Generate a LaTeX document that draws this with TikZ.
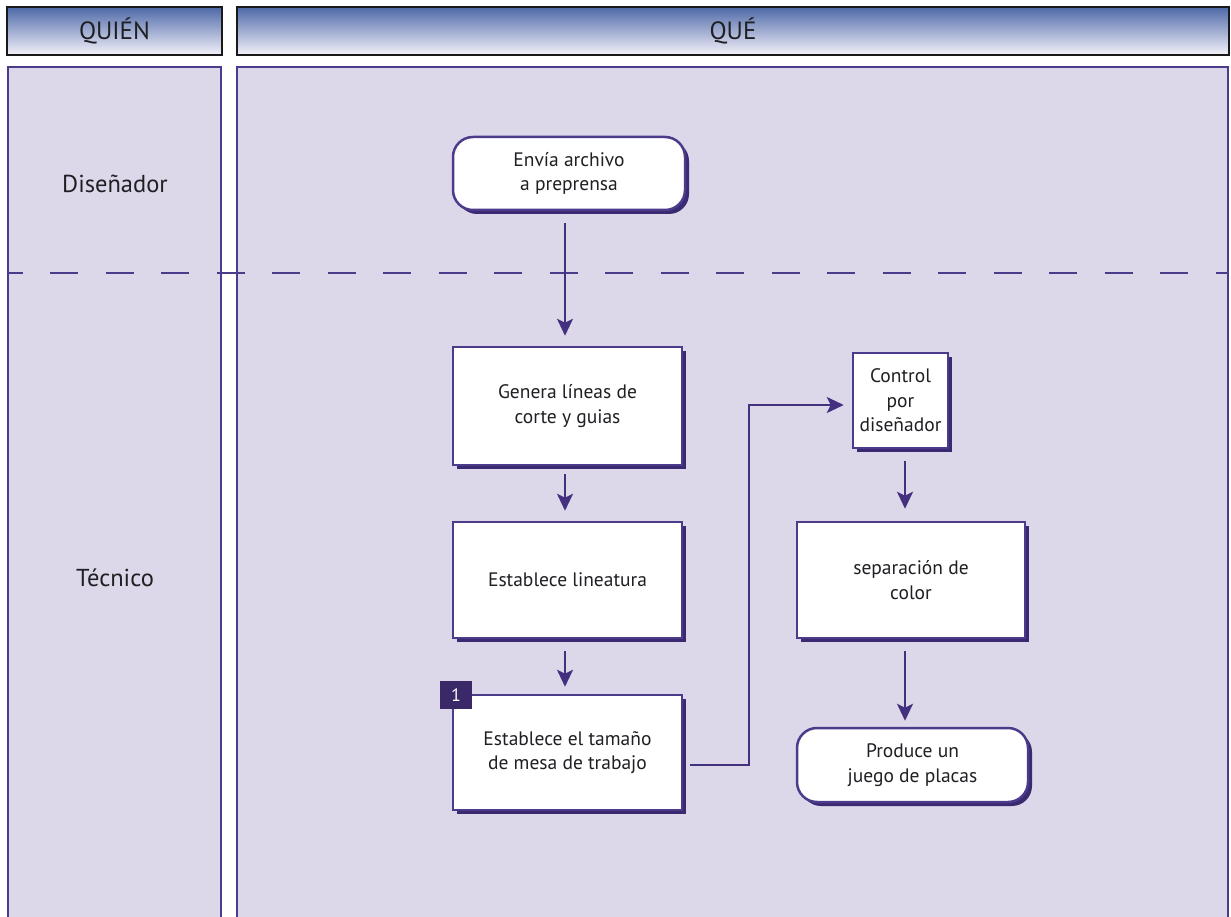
\documentclass[tikz,border=0pt]{standalone}
\usepackage{fontspec}
\setmainfont{PT Sans}
\usetikzlibrary{arrows.meta,shadows}

\definecolor{lanefill}{HTML}{DCD8EA}
\definecolor{laneline}{HTML}{4C3A8A}
\definecolor{flowcol}{HTML}{45307F}
\definecolor{shadowcol}{HTML}{3B2A72}
\definecolor{badgecol}{HTML}{3A2868}
\definecolor{headtop}{HTML}{4E69A8}
\definecolor{headbot}{HTML}{F4F2FA}
\definecolor{inkcol}{HTML}{1F1F24}

\tikzset{
  header/.style={draw=black!90, line width=2.5pt, top color=headtop,
    bottom color=headbot, middle color=headtop!50!headbot,
    text=inkcol, font=\fontsize{25}{28}\selectfont},
  lane/.style={draw=laneline, fill=lanefill, line width=2.3pt},
  divider/.style={draw=laneline, line width=2.5pt,
    dash pattern=on 28pt off 27.5pt, dash phase=13.5pt},
  process/.style={draw=laneline, fill=white, line width=2.5pt,
    drop shadow={shadow xshift=4pt, shadow yshift=-4pt, fill=shadowcol, opacity=1},
    align=center, text=inkcol, font=\fontsize{19.5}{24.5}\selectfont, inner sep=0pt},
  terminal/.style={process, rounded corners=20pt},
  flow/.style={draw=flowcol, line width=2.3pt,
    -{Stealth[length=17pt,width=16pt,inset=4pt]}},
  lanelabel/.style={text=inkcol, font=\fontsize{24.5}{28}\selectfont},
  badge/.style={fill=badgecol, text=white, inner sep=0pt,
    minimum width=32pt, minimum height=28pt, font=\fontsize{18}{18}\selectfont}
}

\begin{document}
\begin{tikzpicture}[x=1pt,y=-1pt]
  \useasboundingbox (0,0) rectangle (1231,917);

  % column headers
  \node[header, minimum width=215pt, minimum height=48pt] (hwho) at (114.5,31) {QUIÉN};
  \node[header, minimum width=992pt, minimum height=48pt] (hwhat) at (733,31) {QUÉ};

  % swim lanes
  \draw[lane] (8,67) rectangle (221,935);
  \draw[lane] (237,67) rectangle (1228,935);

  % role divider
  \draw[divider] (8,273) -- (1228,273);

  % role labels
  \node[lanelabel] (designer) at (115,184) {Diseñador};
  \node[lanelabel] (tech) at (115,578) {Técnico};

  % process steps
  \node[terminal, minimum width=232pt, minimum height=73pt] (send) at (569,173.5)
    {Envía archivo\\a preprensa};
  \node[process, minimum width=229pt, minimum height=118pt] (guides) at (567.5,406)
    {Genera líneas de\\corte y guias};
  \node[process, minimum width=229pt, minimum height=116pt] (lineature) at (567.5,580)
    {Establece lineatura};
  \node[process, minimum width=229pt, minimum height=115pt] (size) at (567.5,752.5)
    {Establece el tamaño\\de mesa de trabajo};
  \node[badge] (one) at (456,695) {1};
  \node[process, minimum width=95pt, minimum height=95pt] (check) at (900.5,400.5)
    {Control\\por\\diseñador};
  \node[process, minimum width=228pt, minimum height=116pt] (separation) at (911,580)
    {separación de\\color};
  \node[terminal, minimum width=231pt, minimum height=74pt] (plates) at (912.5,765)
    {Produce un\\juego de placas};

  % connectors
  \draw[flow, shorten <=12pt, shorten >=10pt]
    ([xshift=-2.5pt]guides.north |- send.south) -- ([xshift=-2.5pt]guides.north);
  \draw[flow, shorten <=8pt, shorten >=10pt]
    ([xshift=-2.5pt]guides.south) -- ([xshift=-2.5pt]lineature.north);
  \draw[flow, shorten <=12pt, shorten >=7pt]
    ([xshift=-2.5pt]lineature.south) -- ([xshift=-2.5pt]size.north);
  \draw[flow, shorten >=8pt]
    ([xshift=7pt,yshift=-12.5pt]size.east) -| (749,405) -- ([yshift=-4.5pt]check.west);
  \draw[flow, shorten <=12pt, shorten >=12pt]
    ([xshift=4.5pt]check.south) -- ([xshift=4.5pt]check.south |- separation.north);
  \draw[flow, shorten <=12pt, shorten >=6pt]
    ([xshift=-6pt]separation.south) -- ([xshift=-6pt]separation.south |- plates.north);
\end{tikzpicture}
\end{document}
